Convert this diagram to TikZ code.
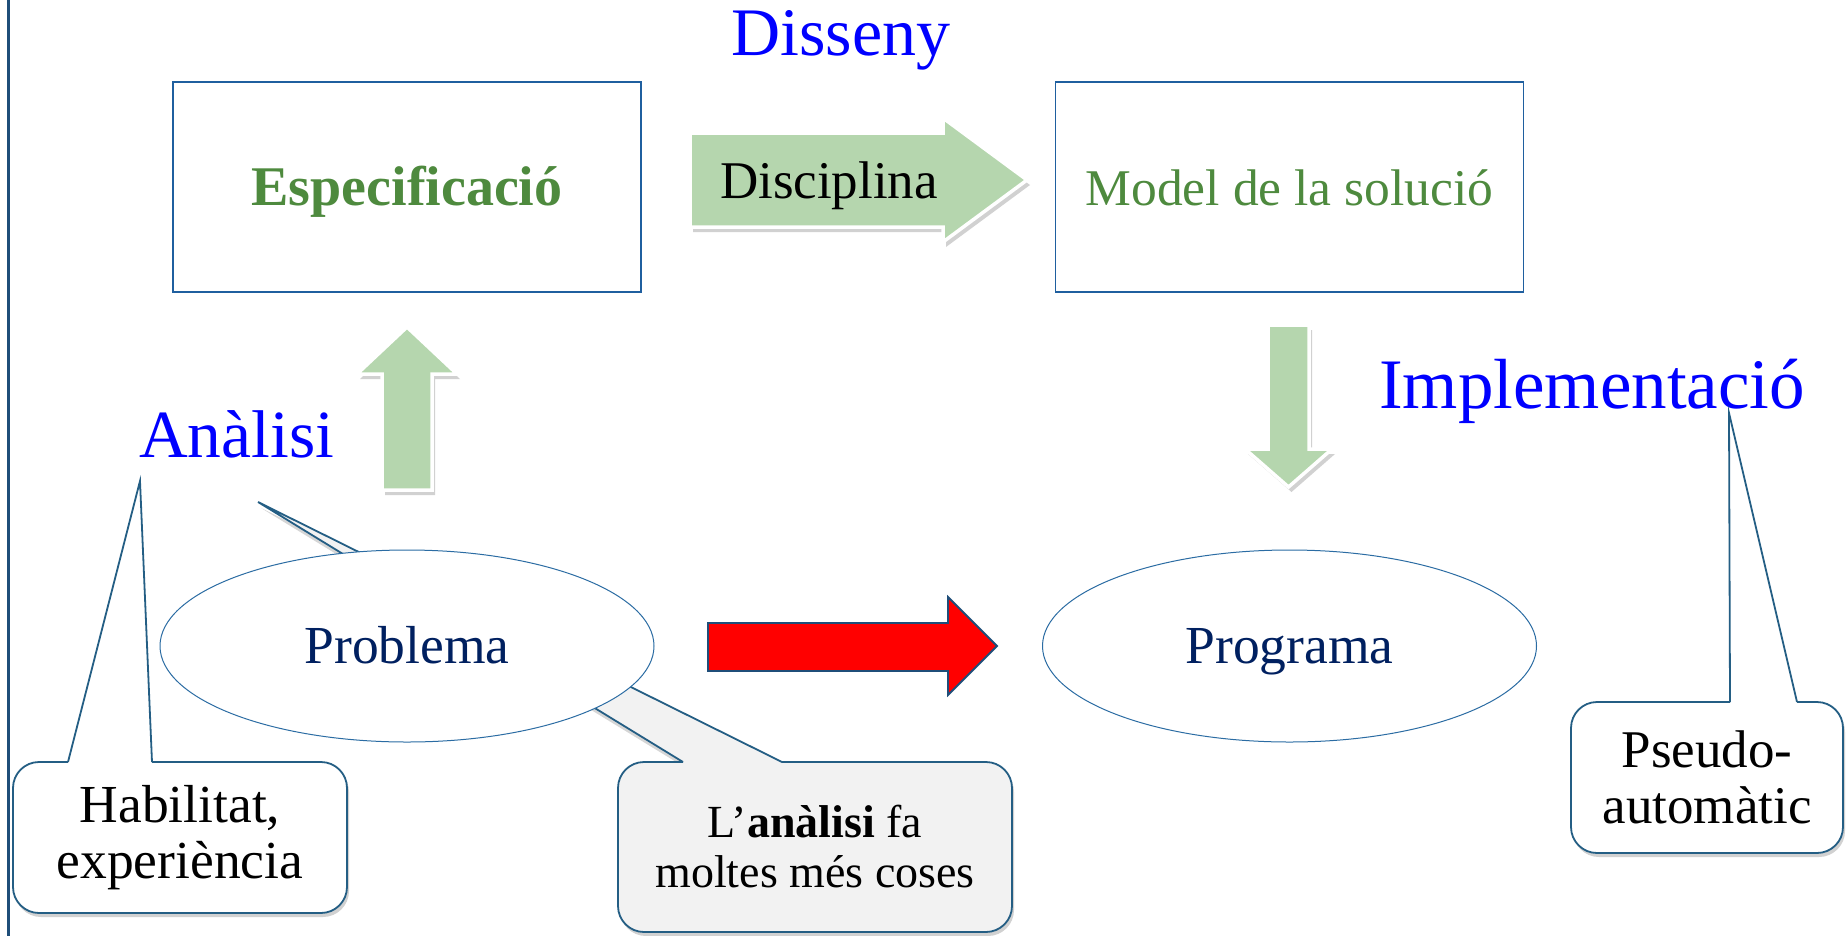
\documentclass[tikz,border=0pt]{standalone}
\usepackage{fontspec}
\setmainfont{Liberation Serif}
\usetikzlibrary{shapes.geometric,shadows,calc}
\definecolor{bluetxt}{HTML}{0000FF}
\definecolor{greentxt}{HTML}{4E8A3E}
\definecolor{navytxt}{HTML}{002060}
\definecolor{boxline}{HTML}{1F5F9F}
\definecolor{ellline}{HTML}{2B6CA3}
\definecolor{callline}{HTML}{245E84}
\definecolor{leftline}{HTML}{1F4E79}
\definecolor{garrowfill}{HTML}{B5D6AE}
\definecolor{redfill}{HTML}{FF0000}
\definecolor{graycall}{HTML}{F2F2F2}
\tikzset{
  bigbox/.style={draw=boxline, line width=1.6pt, fill=white, minimum width=468pt, minimum height=210pt, inner sep=0pt, text height=48pt, text depth=12pt},
  bigell/.style={ellipse, draw=ellline, line width=1pt, fill=white, minimum width=494pt, minimum height=192pt, inner sep=0pt, text=navytxt, font=\fontsize{53.5}{58}\selectfont, text height=45pt, text depth=11pt},
  bluelabel/.style={text=bluetxt, inner sep=0pt, anchor=base west},
  garrow/.style={fill=garrowfill, draw=white, line width=3.5pt, line join=miter, drop shadow={shadow xshift=3pt, shadow yshift=-5pt, opacity=0.18, fill=black}},
  redarrow/.style={fill=redfill, draw=leftline, line width=1.8pt, line join=miter},
  callbox/.style={draw=callline, line width=1.8pt, rounded corners=26pt, inner sep=0pt, align=center, drop shadow={shadow xshift=2pt, shadow yshift=-4pt, opacity=0.18, fill=black}},
  callptr/.style={draw=callline, line width=1.8pt, line join=miter}
}
\begin{document}
\begin{tikzpicture}[x=1pt,y=-1pt]
\useasboundingbox (0,0) rectangle (1848,935);
\fill[white] (0,0) rectangle (1848,935);
% left border line
\draw[line width=3pt, leftline] (8,-2) -- (8,937);

% top boxes
\node[bigbox, text=greentxt, font=\fontsize{56}{60}\selectfont\bfseries] (espec) at (407,187) {Especificació};
\node[bigbox, text=greentxt, font=\fontsize{51.5}{56}\selectfont] (model) at (1289.5,187) {Model de la solució};

% Disciplina arrow
\draw[garrow] (690,133) -- (943,133) -- (943,118) -- (1027,180) -- (943,242) -- (943,227) -- (690,227) -- cycle;
\node[font=\fontsize{53}{58}\selectfont, inner sep=0pt, anchor=base] (disc) at (829,198) {Disciplina};

% up arrow
\draw[garrow] (382,490) -- (382,374) -- (357,374) -- (407,327) -- (457,374) -- (432,374) -- (432,490) -- cycle;
% down arrow
\draw[garrow] (1268,325) -- (1309,325) -- (1309,449) -- (1332,449) -- (1288.5,487) -- (1245,449) -- (1268,449) -- cycle;

% blue labels
\node[bluelabel, font=\fontsize{68}{72}\selectfont] (disseny) at (731,55) {Disseny};
\node[bluelabel, font=\fontsize{67.5}{72}\selectfont] (analisi) at (139,457) {Anàlisi};
\node[bluelabel, font=\fontsize{71}{74}\selectfont] (impl) at (1379,408) {Implementació};

% callout: Habilitat
\node[callbox, fill=white, minimum width=334pt, minimum height=151pt, font=\fontsize{53.5}{56}\selectfont] (habil) at (180,837.5) {Habilitat,\\experiència};
\coordinate (habtip) at (140,481);
\fill[white] (69,764.5) -- (68,762) -- (habtip) -- (152,762) -- (151.5,764.5) -- cycle;
\draw[callptr] (68,762) -- (habtip) -- (152,762);

% callout: L'anàlisi
\coordinate (lantip) at (258,502);
\fill[black, opacity=0.16] (686,768) -- ($(lantip)+(3,6)$) -- (785,768) -- cycle;
\node[callbox, fill=graycall, minimum width=394pt, minimum height=170pt, font=\fontsize{46}{50}\selectfont] (lanal) at (815,847) {L’\textbf{anàlisi} fa\\moltes més coses};
\fill[graycall] (684,764.5) -- (683,762) -- (lantip) -- (782,762) -- (780,764.5) -- cycle;
\draw[callptr] (683,762) -- (lantip) -- (782,762);

% callout: Pseudo-automàtic
\node[callbox, fill=white, minimum width=272pt, minimum height=151pt, font=\fontsize{53}{56}\selectfont] (pseudo) at (1707,777.5) {Pseudo-\\automàtic};
\coordinate (pstip) at (1729,413);
\fill[white] (1731,704.5) -- (1730,702) -- (pstip) -- (1797,702) -- (1796.5,704.5) -- cycle;
\draw[callptr] (1730,702) -- (pstip) -- (1797,702);

% ellipses
\node[bigell] (prob) at (407,646) {Problema};
\node[bigell] (prog) at (1289.5,646) {Programa};

% red arrow
\draw[redarrow] (708,623) -- (948,623) -- (948,597) -- (997,646) -- (948,695) -- (948,671) -- (708,671) -- cycle;
\end{tikzpicture}
\end{document}
